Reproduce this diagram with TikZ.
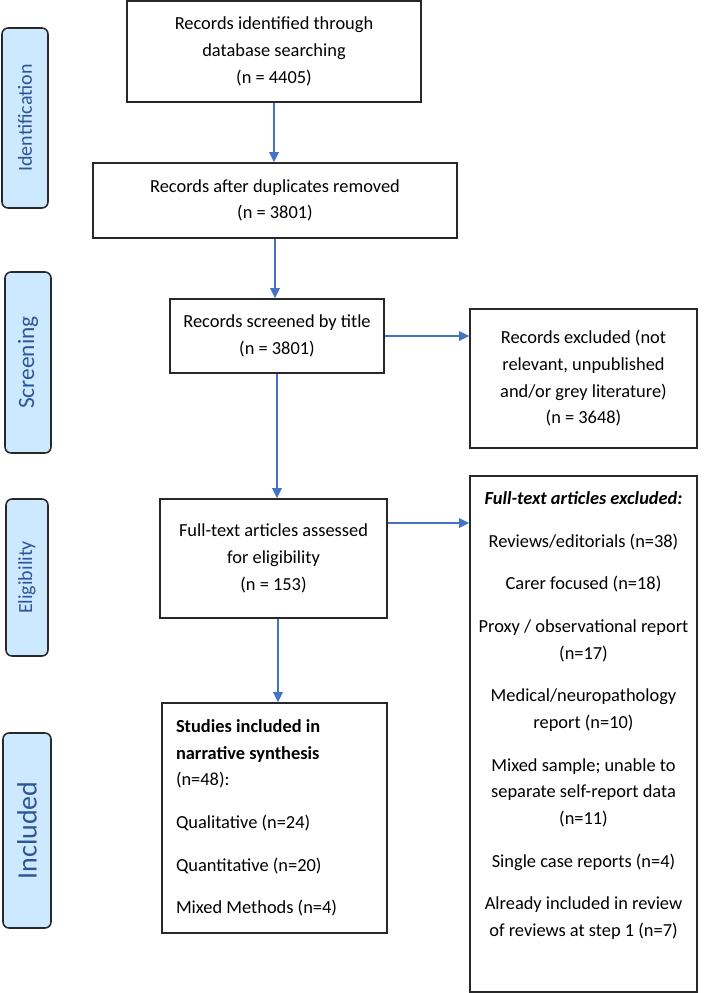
\documentclass[tikz,border=0pt]{standalone}
\usepackage{fontspec}
\setmainfont{Carlito}
\usepackage{tikz}
\usetikzlibrary{positioning,arrows.meta}
\definecolor{phaseblue}{RGB}{47,85,151}
\definecolor{phasefill}{RGB}{205,233,255}
\definecolor{arrowblue}{RGB}{68,114,196}
\definecolor{boxline}{RGB}{40,40,40}
\tikzset{
  flow-box/.style={draw=boxline, line width=1.15pt, align=center, inner sep=4pt,
    font=\fontsize{13.8}{20}\selectfont},
  list-box/.style={draw=boxline, line width=1.15pt, align=flush left, inner xsep=10.5pt,
    inner ysep=4pt, font=\fontsize{13.8}{20}\selectfont},
  list-text/.style={align=flush center, inner sep=0pt, text width=165pt,
    font=\fontsize{13.8}{20}\selectfont},
  phase-box/.style={draw=boxline, line width=1.15pt, fill=phasefill, rounded corners=4.5pt,
    rotate=90, text=phaseblue, inner sep=2pt},
  flow-arrow/.style={-{Triangle[length=7.5pt,width=7pt]}, line width=1.15pt, draw=arrowblue}
}

\begin{document}
\begin{tikzpicture}[x=0.75pt, y=-0.75pt]
\useasboundingbox (0,0) rectangle (710,993);

% Phase labels
\node[phase-box, minimum width=135pt, minimum height=34.5pt, font=\fontsize{15}{18}\selectfont] (idlab) at (25,118) {Identification};
\node[phase-box, minimum width=135.75pt, minimum height=34.5pt, font=\fontsize{17.5}{20}\selectfont] (scrlab) at (28,362.5) {Screening};
\node[phase-box, minimum width=117.75pt, minimum height=31.5pt, font=\fontsize{15}{18}\selectfont] (eliglab) at (27,577.5) {Eligibility};
\node[phase-box, minimum width=146.25pt, minimum height=36pt, font=\fontsize{21}{24}\selectfont] (incllab) at (27,830.5) {Included};

% Main column
\node[flow-box, minimum width=220.5pt, minimum height=75.75pt] (ident) at (274,51.5)
  {Records identified through\\database searching\\(n = 4405)};
\node[flow-box, minimum width=273pt, minimum height=56.25pt] (dedup) at (275,200.5)
  {Records after duplicates removed\\(n = 3801)};
\node[flow-box, minimum width=160.5pt, minimum height=55.5pt] (screen) at (277,336)
  {Records screened by title\\(n = 3801)};
\node[flow-box, minimum width=170.25pt, minimum height=89.25pt] (full) at (273.5,558.5)
  {Full-text articles assessed\\for eligibility\\(n = 153)};
\node[list-box, text width=147.75pt, minimum height=172.5pt] (incl) at (274.5,818)
  {\textbf{Studies included in}\\\textbf{narrative synthesis}\\(n=48):\\[12pt]
   Qualitative (n=24)\\[12pt]
   Quantitative (n=20)\\[12pt]
   Mixed Methods (n=4)};

% Exclusion column
\node[flow-box, minimum width=170.25pt, minimum height=104.25pt] (excl) at (583.5,378.5)
  {Records excluded (not\\relevant, unpublished\\and/or grey literature)\\(n = 3648)};
\node[flow-box, minimum width=170.25pt, minimum height=387pt] (ftexcl) at (583.5,734) {};
\node[list-text, below=12pt of ftexcl.north] (ftlist)
  {\textbf{\textit{Full-text articles excluded:}}\\[12pt]
   Reviews/editorials (n=38)\\[12pt]
   Carer focused (n=18)\\[12pt]
   Proxy / observational report\\(n=17)\\[12pt]
   Medical/neuropathology\\report (n=10)\\[12pt]
   Mixed sample; unable to\\separate self-report data\\(n=11)\\[12pt]
   Single case reports (n=4)\\[12pt]
   Already included in review\\of reviews at step 1 (n=7)};

% Connecting arrows
\draw[flow-arrow] (ident.south) -- (ident.south |- dedup.north);
\draw[flow-arrow] (dedup.south) -- (dedup.south |- screen.north);
\draw[flow-arrow] (screen.east) -- (screen.east -| excl.west);
\draw[flow-arrow] (screen.south) -- (screen.south |- full.north);
\draw[flow-arrow] ([yshift=26.6pt]full.east) -- ([yshift=26.6pt]full.east -| ftexcl.west);
\draw[flow-arrow] ([xshift=3.375pt]full.south) -- ([xshift=3.375pt]full.south |- incl.north);
\end{tikzpicture}
\end{document}
